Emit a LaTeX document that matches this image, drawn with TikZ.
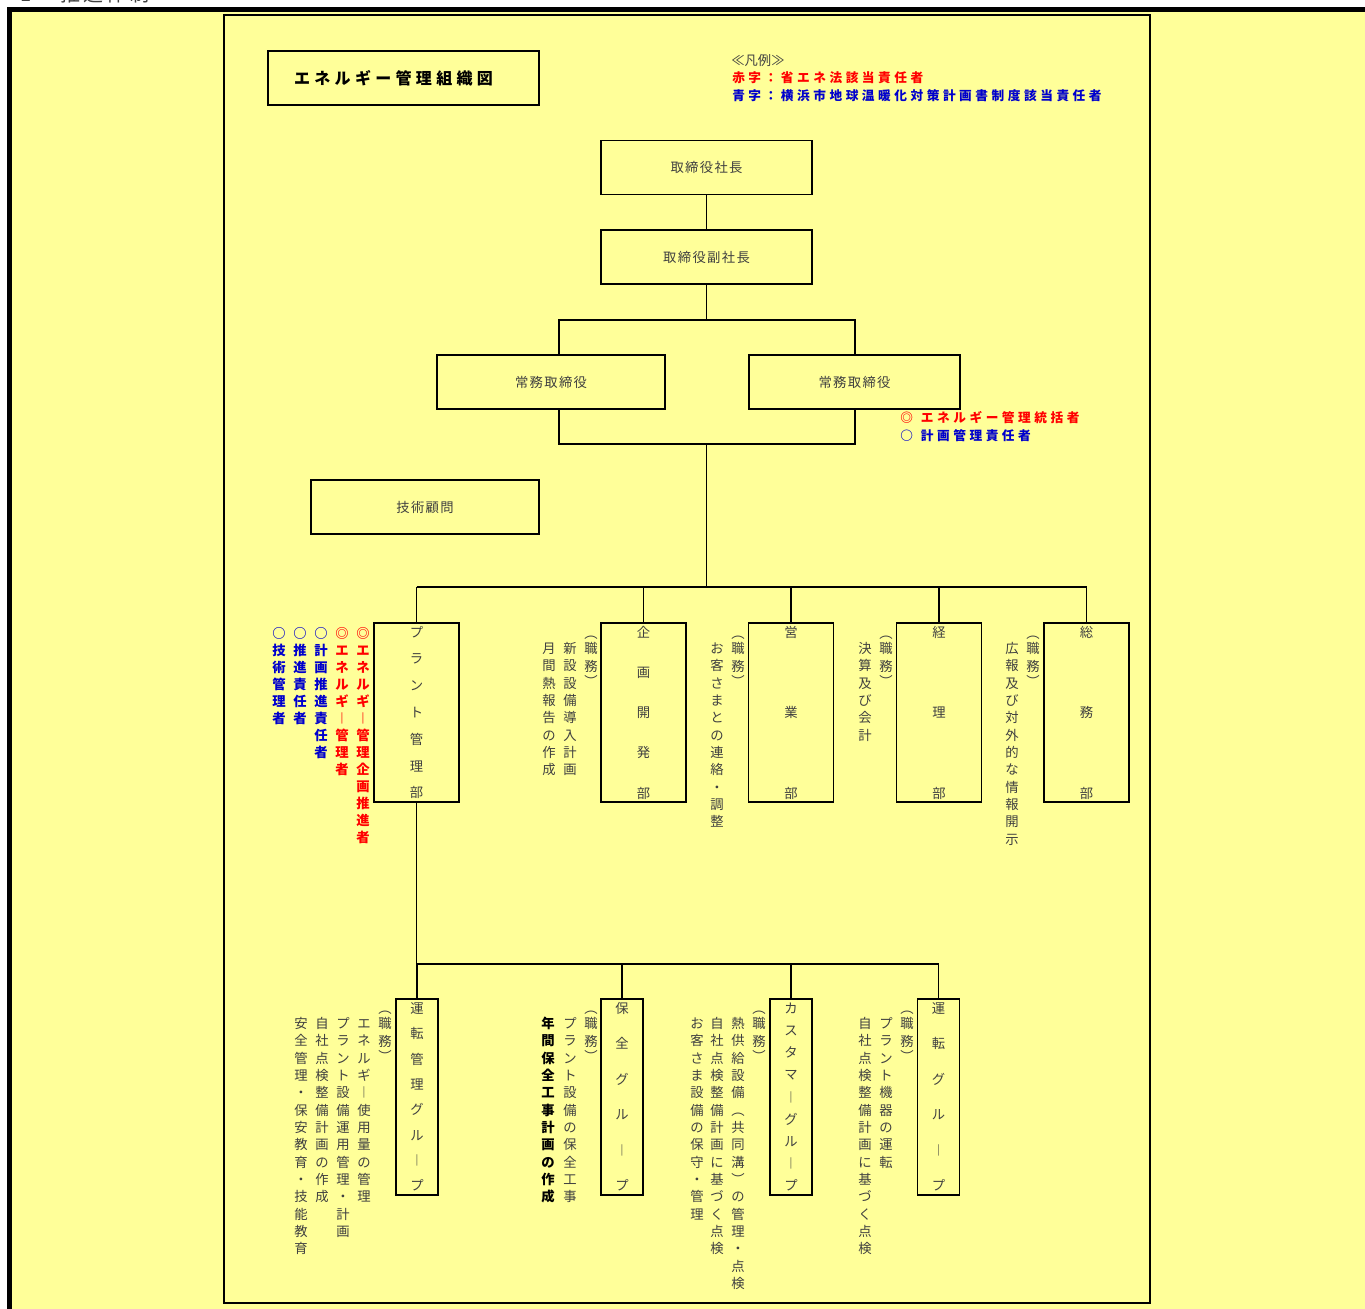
\documentclass[tikz,border=0pt]{standalone}
\usepackage{fontspec}
\newfontfamily\jp{Noto Sans CJK JP}
\newfontfamily\jpls[LetterSpace=28]{Noto Sans CJK JP}
\newfontfamily\jptl[LetterSpace=27]{Noto Sans CJK JP}
\newfontfamily\jpbx[LetterSpace=10]{Noto Sans CJK JP}
\newfontfamily\jphd[LetterSpace=15]{Noto Sans CJK JP}
\definecolor{bg}{HTML}{FFFF99}
\definecolor{txt}{HTML}{404040}
\definecolor{rd}{HTML}{FF0000}
\definecolor{bl}{HTML}{0000CC}
\makeatletter
\def\vc@st{\vrule height .88em depth .12em width 0pt\relax}
\newcommand\vcol[2]{\vbox{\hsize=1em\baselineskip=#1\relax\lineskiplimit=-100pt\lineskip=0pt
  \@tfor\vc@ch:=#2\do{\hbox to 1em{\hss\vc@st\vc@ch\hss}}}}
\newcommand\vhead{\vbox{\hsize=1em\baselineskip=13pt\lineskiplimit=-100pt\lineskip=0pt
  \hbox to 1em{\hss\vc@st ︵\hss}\vskip-1.5pt
  \hbox to 1em{\hss\vc@st 職\hss}
  \hbox to 1em{\hss\vc@st 務\hss}\vskip-1.5pt
  \hbox to 1em{\hss\vc@st ︶\hss}}}
\makeatother
\begin{document}
\begin{tikzpicture}[x=0.75pt,y=-0.75pt,
  box/.style={draw=black,line width=1.4pt,fill=bg,inner sep=0pt},
  conn/.style={line width=1.4pt},
  hbx/.style={box,minimum width=158.25pt,minimum height=40.5pt,text=txt,font=\jpbx\fontsize{10}{12}\selectfont},
  wbx/.style={hbx,minimum width=171pt},
  dept/.style={box,minimum width=63.75pt,minimum height=134.25pt,text=txt,font=\jp\fontsize{10}{12}\selectfont},
  grp/.style={box,minimum width=31.5pt,minimum height=147pt,text=txt,font=\jp\fontsize{10}{12}\selectfont},
  vc/.style={anchor=north,inner sep=0pt,yshift=5pt,text=txt,font=\jp\fontsize{10}{12}\selectfont},
  vr/.style={vc,text=rd,font=\jp\bfseries\fontsize{10}{12}\selectfont},
  vb/.style={vc,text=bl,font=\jp\bfseries\fontsize{10}{12}\selectfont},
  vk/.style={vc,text=black,font=\jp\bfseries\fontsize{10}{12}\selectfont},
  leg/.style={anchor=west,inner sep=0pt,font=\jpls\bfseries\fontsize{9.5}{11}\selectfont}
]
\useasboundingbox (0,0) rectangle (1365,1309);
\fill[white] (0,0) rectangle (1365,1309);
% partial heading at top edge
\node[anchor=base west,inner sep=0pt,text=txt,font=\jphd\fontsize{15}{15}\selectfont] (hdr) at (20,2) {1\hspace{22pt}推進体制};
% outer frame
\draw[line width=4.1pt,fill=bg] (9.25,9.5) rectangle (1420,1400);
% inner frame
\draw[line width=1.4pt] (224,15) rectangle (1150,1303);

% title and legends
\node[box,minimum width=203.25pt,minimum height=40.5pt,font=\jptl\bfseries\fontsize{12}{14}\selectfont] (title) at (403.5,78) {エネルギー管理組織図\hspace*{15pt}};
\node[anchor=west,inner sep=0pt,text=txt,font=\jp\fontsize{10}{12}\selectfont] (leg0) at (731,60) {≪凡例≫};
\node[leg,text=rd] (leg1) at (732,78) {赤字：省エネ法該当責任者};
\node[leg,text=bl] (leg2) at (732,96) {青字：横浜市地球温暖化対策計画書制度該当責任者};
\node[leg,text=rd] (leg3) at (900,418) {◎\hspace{6pt}エネルギー管理統括者};
\node[leg,text=bl] (leg4) at (900,436) {○\hspace{6pt}計画管理責任者};

% top boxes
\node[hbx] (pres) at (706.5,167.5) {取締役社長};
\node[hbx] (vp) at (706.5,257) {取締役副社長};
\node[wbx] (md1) at (551,382) {常務取締役};
\node[hbx] (md2) at (854.5,382) {常務取締役};
\node[wbx] (adv) at (425,507) {技術顧問};

% departments
\node[dept] (plant) at (416.5,712.5) {\vcol{20.1pt}{プラント管理部}};
\node[dept] (kikaku) at (643.5,712.5) {\vcol{30.2pt}{企画開発部}};
\node[dept] (eigyo) at (791,712.5) {\vcol{60.4pt}{営業部}};
\node[dept] (keiri) at (939,712.5) {\vcol{60.4pt}{経理部}};
\node[dept] (somu) at (1086.5,712.5) {\vcol{60.4pt}{総務部}};

% groups
\node[grp] (unkan) at (417,1097) {\vcol{18.97pt}{運転管理グル︱プ}};
\node[grp] (hozen) at (622,1097) {\vcol{26.55pt}{保全グル︱プ}};
\node[grp] (cust) at (791,1097) {\vcol{16.6pt}{カスタマ︱グル︱プ}};
\node[grp] (unten) at (938.5,1097) {\vcol{26.55pt}{運転グル︱プ}};

% connectors
\coordinate (j1) at (706.5,320);
\coordinate (jl) at (559,320);
\coordinate (jr) at (855,320);
\coordinate (kl) at (559,444);
\coordinate (kr) at (855,444);
\coordinate (k) at (706.5,444);
\coordinate (t) at (706.5,587);
\coordinate (tl) at (416.5,587);
\coordinate (tr) at (1086.5,587);
\coordinate (g) at (416.5,964);
\coordinate (gr) at (938.5,964);
\draw[conn] (pres.south) -- (vp.north);
\draw[conn] (vp.south) -- (j1);
\draw[conn] (jl |- md1.north) -- (jl) -- (jr) -- (jr |- md2.north);
\draw[conn] (jl |- md1.south) -- (kl) -- (kr) -- (jr |- md2.south);
\draw[conn] (k) -- (t);
\draw[conn] (tl) -- (tr);
\foreach \n in {plant,kikaku,eigyo,keiri,somu} \draw[conn] (\n.north |- tl) -- (\n.north);
\draw[conn] (plant.south) -- (g) -- (gr);
\foreach \n in {unkan,hozen,cust,unten} \draw[conn] (\n.north |- g) -- (\n.north);

% annotations of plant dept
\node[vr] (a1) at (363,633) {\vcol{12.75pt}{◎エネルギ︱管理企画推進者}};
\node[vr] (a2) at (342,633) {\vcol{12.75pt}{◎エネルギ︱管理者}};
\node[vb] (a3) at (321,633) {\vcol{12.75pt}{○計画推進責任者}};
\node[vb] (a4) at (300,633) {\vcol{12.75pt}{○推進責任者}};
\node[vb] (a5) at (279,633) {\vcol{12.75pt}{○技術管理者}};

% duties upper
\node[vc] (h1) at (591,633) {\vhead};
\node[vc] (d11) at (570,648) {\vcol{13pt}{新設設備導入計画}};
\node[vc] (d12) at (549,648) {\vcol{13pt}{月間熱報告の作成}};
\node[vc] (h2) at (738,633) {\vhead};
\node[vc] (d21) at (717,648) {\vcol{13pt}{お客さまとの連絡・調整}};
\node[vc] (h3) at (886,633) {\vhead};
\node[vc] (d31) at (865,648) {\vcol{13pt}{決算及び会計}};
\node[vc] (h4) at (1033,633) {\vhead};
\node[vc] (d41) at (1012,648) {\vcol{13pt}{広報及び対外的な情報開示}};

% duties lower
\node[vc] (h5) at (385,1008) {\vhead};
\node[vc] (d51) at (364,1023) {\vcol{13pt}{エネルギ︱使用量の管理}};
\node[vc] (d52) at (343,1023) {\vcol{13pt}{プラント設備運用管理・計画}};
\node[vc] (d53) at (322,1023) {\vcol{13pt}{自社点検整備計画の作成}};
\node[vc] (d54) at (301,1023) {\vcol{13pt}{安全管理・保安教育・技能教育}};
\node[vc] (h6) at (591,1008) {\vhead};
\node[vc] (d61) at (570,1023) {\vcol{13pt}{プラント設備の保全工事}};
\node[vk] (d62) at (548,1023) {\vcol{13pt}{年間保全工事計画の作成}};
\node[vc] (h7) at (759,1008) {\vhead};
\node[vc] (d71) at (738,1023) {\vcol{13pt}{熱供給設備︵共同溝︶の管理・点検}};
\node[vc] (d72) at (717,1023) {\vcol{13pt}{自社点検整備計画に基づく点検}};
\node[vc] (d73) at (697,1023) {\vcol{13pt}{お客さま設備の保守・管理}};
\node[vc] (h8) at (907,1008) {\vhead};
\node[vc] (d81) at (886,1023) {\vcol{13pt}{プラント機器の運転}};
\node[vc] (d82) at (865,1023) {\vcol{13pt}{自社点検整備計画に基づく点検}};
\end{tikzpicture}
\end{document}
